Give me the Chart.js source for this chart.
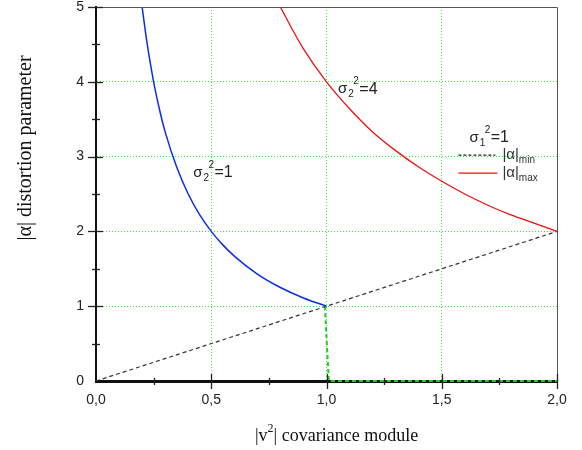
<!doctype html>
<html lang="en">
  <head>
    <meta charset="utf-8">
    <title>|α| distortion parameter vs |v²| covariance module</title>
    <style>
      * { margin: 0; padding: 0; }
      body { background: #fff; }
      .chartBox { width: 582px; height: 450px; }
    </style>
  </head>
  <body>
    <div class="chartBox">
      <canvas id="myChart"></canvas>
    </div>
    <script src="https://cdn.jsdelivr.net/npm/chart.js"></script>
    <script>
    // values
    const blueX = [0.20, 0.22, 0.25, 0.28, 0.30, 0.35, 0.40, 0.45, 0.50, 0.55, 0.60, 0.70, 0.80, 0.90, 1.00];
    const blueY = [5.00, 4.55, 4.00, 3.57, 3.33, 2.86, 2.50, 2.22, 2.00, 1.82, 1.67, 1.43, 1.25, 1.11, 1.00];

    const redX = [0.80, 0.85, 0.90, 1.00, 1.10, 1.20, 1.30, 1.40, 1.50, 1.60, 1.70, 1.80, 1.90, 2.00];
    const redY = [5.00, 4.71, 4.44, 4.00, 3.64, 3.33, 3.08, 2.86, 2.67, 2.50, 2.35, 2.22, 2.11, 2.00];

    const minX = [0.0, 2.0];
    const minY = [0.0, 2.0];

    const greenX = [0.993, 1.01, 2.0];
    const greenY = [1.0, 0.0, 0.0];

    const xTickLabels = ['0,0', '0,5', '1,0', '1,5', '2,0'];
    const yTickLabels = ['0', '1', '2', '3', '4', '5'];

    const toPts = (xs, ys) => xs.map((x, i) => ({x: x, y: ys[i]}));

    const sans = "'Liberation Sans', Arial, sans-serif";
    const serif = "'Liberation Serif', 'Times New Roman', serif";

    // text like σ₂²=1 drawn with real sub/superscripts
    function sigmaText(ctx, x, y, sub, sup, rest) {
      ctx.font = '15px ' + sans;
      ctx.fillText('σ', x, y);
      let w = ctx.measureText('σ').width;
      ctx.font = '10px ' + sans;
      ctx.fillText(sub, x + w + 1, y + 5);
      ctx.fillText(sup, x + w + 6, y - 8);
      ctx.font = '16px ' + sans;
      ctx.fillText(rest, x + w + 12, y);
    }

    const decorations = {
      id: 'decorations',
      afterDraw(chart) {
        const {ctx, chartArea: a, scales: {x, y}} = chart;
        ctx.save();

        // frame top/right
        ctx.strokeStyle = '#555';
        ctx.lineWidth = 1;
        ctx.beginPath();
        ctx.moveTo(a.left, a.top + 0.5);
        ctx.lineTo(a.right + 0.5, a.top + 0.5);
        ctx.lineTo(a.right + 0.5, a.bottom);
        ctx.stroke();

        // tick marks crossing the axes
        ctx.strokeStyle = '#222';
        ctx.lineWidth = 1.3;
        y.ticks.forEach(t => {
          const py = Math.round(y.getPixelForValue(t.value)) + 0.5;
          const major = Number.isInteger(t.value);
          if (t.value === 0) return;
          ctx.beginPath();
          ctx.moveTo(a.left - (major ? 8 : 4), py);
          ctx.lineTo(a.left + (major ? 7 : 4), py);
          ctx.stroke();
        });
        x.ticks.forEach(t => {
          const px = Math.round(x.getPixelForValue(t.value)) + 0.5;
          const major = Math.abs(t.value * 2 - Math.round(t.value * 2)) < 1e-6;
          if (t.value === 0) return;
          ctx.beginPath();
          ctx.moveTo(px, a.bottom + (major ? 8 : 4));
          ctx.lineTo(px, a.bottom - (major ? 7 : 3));
          ctx.stroke();
        });

        // curve labels
        ctx.fillStyle = '#222';
        ctx.textAlign = 'left';
        ctx.textBaseline = 'middle';
        sigmaText(ctx, x.getPixelForValue(0.422), y.getPixelForValue(2.78), '2', '2', '=1');
        sigmaText(ctx, x.getPixelForValue(1.05), y.getPixelForValue(3.90), '2', '2', '=4');

        // legend
        const lx = x.getPixelForValue(1.62);
        sigmaText(ctx, lx, y.getPixelForValue(3.25), '1', '2', '=1');
        const r1 = y.getPixelForValue(3.02), r2 = y.getPixelForValue(2.78);
        ctx.lineWidth = 1.2;
        ctx.strokeStyle = '#222';
        ctx.setLineDash([3, 2]);
        ctx.beginPath(); ctx.moveTo(lx - 11, r1); ctx.lineTo(lx + 26, r1); ctx.stroke();
        ctx.setLineDash([]);
        ctx.strokeStyle = '#ee1111';
        ctx.beginPath(); ctx.moveTo(lx - 11, r2); ctx.lineTo(lx + 28, r2); ctx.stroke();
        ctx.fillStyle = '#333';
        [['min', r1], ['max', r2]].forEach(([s, ry]) => {
          ctx.font = '15px ' + sans;
          ctx.fillText('|α|', lx + 33, ry);
          const w = ctx.measureText('|α|').width;
          ctx.font = '10px ' + sans;
          ctx.fillText(s, lx + 33 + w, ry + 5);
        });

        // axis titles
        ctx.fillStyle = '#111';
        ctx.font = '20px ' + serif;
        ctx.textAlign = 'center';
        ctx.save();
        ctx.translate(26, 148);
        ctx.rotate(-Math.PI / 2);
        ctx.fillText('|α| distortion parameter', 0, 0);
        ctx.restore();

        ctx.font = '18px ' + serif;
        ctx.textAlign = 'left';
        ctx.textBaseline = 'alphabetic';
        let tx = 255;
        const ty = 441;
        ctx.fillText('|v', tx, ty);
        tx += ctx.measureText('|v').width;
        ctx.font = '12px ' + serif;
        ctx.fillText('2', tx, ty - 9);
        tx += ctx.measureText('2').width;
        ctx.font = '18px ' + serif;
        ctx.fillText('| covariance module', tx, ty);

        ctx.restore();
      }
    };

    const gridGreen = '#33ee33';

    const data = {
      datasets: [{
        label: 'σ2²=1',
        data: toPts(blueX, blueY),
        borderColor: '#0a2ee8',
        borderWidth: 1.5,
        cubicInterpolationMode: 'monotone',
        pointRadius: 0
      }, {
        label: 'σ2²=4',
        data: toPts(redX, redY),
        borderColor: '#ee1111',
        borderWidth: 1.3,
        cubicInterpolationMode: 'monotone',
        pointRadius: 0,
        clip: 4
      }, {
        label: '|α|min',
        data: toPts(minX, minY),
        borderColor: '#333',
        borderWidth: 1.2,
        borderDash: [4, 3],
        pointRadius: 0,
        clip: 4
      }, {
        label: '|α|min σ2²=1',
        data: toPts(greenX, greenY),
        borderColor: '#22cc22',
        borderWidth: 2,
        borderDash: [4, 3],
        pointRadius: 0,
        clip: 6
      }]
    };

    const config = {
      type: 'line',
      data,
      options: {
        responsive: true,
        maintainAspectRatio: false,
        animation: false,
        layout: { padding: { top: 7, right: 25, left: 0, bottom: 0 } },
        plugins: {
          legend: { display: false },
          tooltip: { enabled: false }
        },
        scales: {
          x: {
            type: 'linear',
            min: 0,
            max: 2,
            afterFit: s => { s.height = 69; s.paddingLeft = 0; s.paddingRight = 0; },
            ticks: {
              stepSize: 0.25,
              padding: 12,
              color: '#222',
              font: { family: sans, size: 14, lineHeight: 1 },
              callback: v => {
                const i = Math.round(v * 2);
                return Math.abs(v * 2 - i) < 1e-6 ? xTickLabels[i] : '';
              }
            },
            grid: {
              drawTicks: false,
              lineWidth: 1,
              color: c => {
                const v = c.tick ? c.tick.value : 0;
                const major = Math.abs(v * 2 - Math.round(v * 2)) < 1e-6;
                return major && v > 0 && v < 2 ? gridGreen : 'transparent';
              }
            },
            border: { color: '#111', width: 3, dash: [1, 2] }
          },
          y: {
            type: 'linear',
            min: 0,
            max: 5,
            afterFit: s => { s.width = 96; s.paddingTop = 0; s.paddingBottom = 0; },
            ticks: {
              stepSize: 0.5,
              padding: 12,
              color: '#222',
              font: { family: sans, size: 14, lineHeight: 1 },
              callback: v => Number.isInteger(v) ? yTickLabels[v] : ''
            },
            grid: {
              drawTicks: false,
              lineWidth: 1,
              color: c => {
                const v = c.tick ? c.tick.value : 0;
                return Number.isInteger(v) && v > 0 && v < 5 ? gridGreen : 'transparent';
              }
            },
            border: { color: '#111', width: 2, dash: [1, 2] }
          }
        }
      },
      plugins: [decorations]
    };

    const myChart = new Chart(document.getElementById('myChart'), config);
    </script>
  </body>
</html>
